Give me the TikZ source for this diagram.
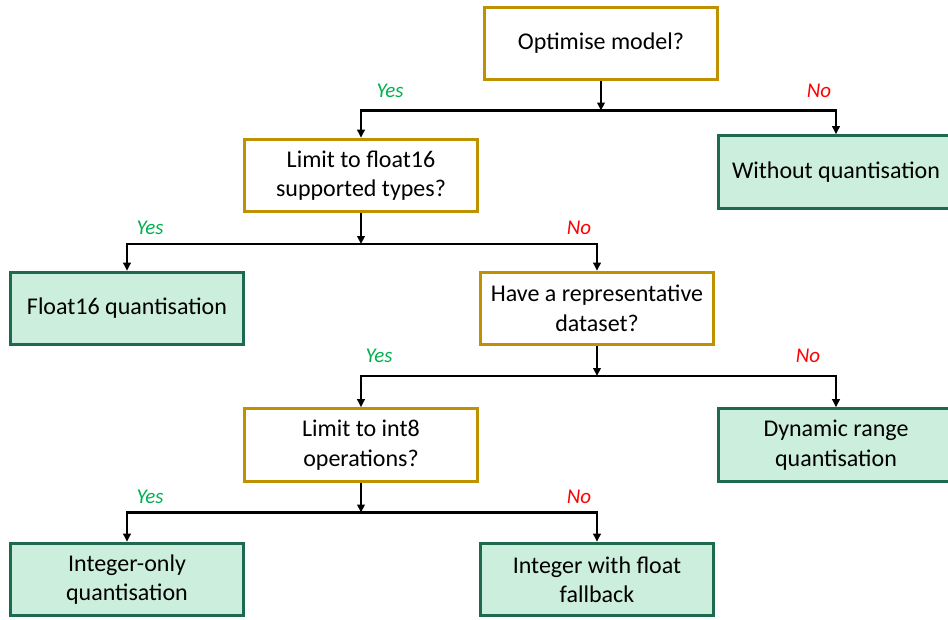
\documentclass[tikz,border=0pt]{standalone}
\usepackage{fontspec}
\setmainfont{Carlito}
\usetikzlibrary{arrows.meta}
\definecolor{qborder}{HTML}{BF9000}
\definecolor{aborder}{HTML}{1E6A50}
\definecolor{afill}{HTML}{CCEEDD}
\definecolor{yescol}{HTML}{00B050}
\definecolor{nocol}{HTML}{FF0000}
\begin{document}
\begin{tikzpicture}[x=1pt,y=-1pt,
  question/.style={draw=qborder, line width=3.1pt, fill=white, minimum width=233pt, minimum height=72.5pt,
    align=center, font=\fontsize{24}{29.5}\selectfont, inner sep=2pt},
  answer/.style={draw=aborder, line width=3.1pt, fill=afill, minimum width=233pt, minimum height=72.5pt,
    align=center, font=\fontsize{24}{29.5}\selectfont, inner sep=2pt},
  link/.style={line width=2.2pt, -{Triangle[length=8pt,width=7.5pt]}},
  yeslbl/.style={text=yescol, font=\fontsize{21}{24}\itshape\selectfont},
  nolbl/.style={text=nocol, font=\fontsize{21}{24}\itshape\selectfont}]
\useasboundingbox (0,0) rectangle (948,619);

% decision boxes
\node[question] (q1) at (601,43.5) {Optimise model?};
\node[question] (q2) at (361,175.5) {Limit to float16\\supported types?};
\node[question] (q3) at (597,308.5) {Have a representative\\dataset?};
\node[question] (q4) at (361,445) {Limit to int8\\operations?};

% outcome boxes
\node[answer, minimum width=235pt] (r1) at (836,172) {Without quantisation};
\node[answer] (r2) at (127,308.5) {Float16 quantisation};
\node[answer, minimum width=235pt] (r3) at (836,445) {Dynamic range\\quantisation};
\node[answer] (r4) at (127,579.5) {Integer-only\\quantisation};
\node[answer] (r5) at (597,579.5) {Integer with float\\fallback};

% branch points
\coordinate (j1) at (601,110.5);
\coordinate (j2) at (361,244);
\coordinate (j3) at (597,376);
\coordinate (j4) at (361,512.5);

% connectors
\draw[link] (q1.south) -- (j1);
\draw[link] (j1) -| (q2.north);
\draw[link] (j1) -| (r1.north);

\draw[link] (q2.south) -- (j2);
\draw[link] (j2) -| (r2.north);
\draw[link] (j2) -| (q3.north);

\draw[link] (q3.south) -- (j3);
\draw[link] (j3) -| (q4.north);
\draw[link] (j3) -| (r3.north);

\draw[link] (q4.south) -- (j4);
\draw[link] (j4) -| (r4.north);
\draw[link] (j4) -| (r5.north);

% branch labels
\node[yeslbl] (y1) at (390,91) {Yes};
\node[nolbl] (n1) at (819,91) {No};
\node[yeslbl] (y2) at (150,228) {Yes};
\node[nolbl] (n2) at (579,228) {No};
\node[yeslbl] (y3) at (379,356) {Yes};
\node[nolbl] (n3) at (808,356) {No};
\node[yeslbl] (y4) at (150,497) {Yes};
\node[nolbl] (n4) at (579,497) {No};
\end{tikzpicture}
\end{document}
